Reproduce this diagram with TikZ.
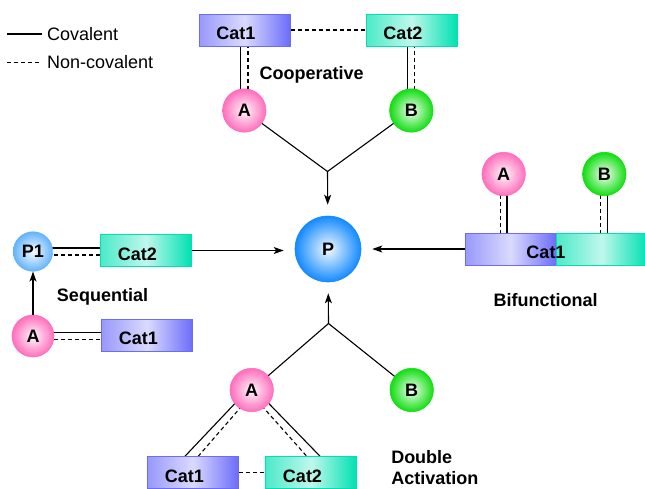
\documentclass[tikz,border=0pt]{standalone}
\usepackage{fontspec}
\setmainfont{Liberation Sans}
\usetikzlibrary{arrows.meta,backgrounds,calc}

\definecolor{catone}{RGB}{108,108,250}
\definecolor{cattwo}{RGB}{0,225,178}
\definecolor{subA}{RGB}{255,110,188}
\definecolor{subB}{RGB}{18,222,18}
\definecolor{prodP}{RGB}{20,138,255}
\definecolor{prodPone}{RGB}{100,180,252}

\tikzset{
  catbox/.style={draw=#1, line width=1pt, left color=#1!70!white, right color=#1, middle color=#1!25!white,
    minimum width=91pt, minimum height=32pt, inner sep=0pt, text height=19pt, text depth=0pt,
    execute at end node={\hspace*{17pt}}},
  ball/.style={circle, draw=#1, line width=0.6pt, inner color=#1!5!white, outer color=#1,
    minimum size=43.4pt, inner sep=0pt},
  nc/.style={dash pattern=on 4pt off 3pt},
  lbl/.style={inner sep=0pt},
  legend/.style={inner sep=0pt, anchor=west, font=\fontsize{18}{21.7}\selectfont\mdseries},
  every on background layer/.style={line width=1.1pt}
}

\begin{document}
\begin{tikzpicture}[x=1pt, y=-1pt, line width=1.1pt,
    font=\fontsize{18}{21.7}\selectfont\bfseries,
    >={Stealth[length=10pt,width=7pt,inset=2.5pt]}]
	\useasboundingbox (0,0) rectangle (645,488);

	% legend
	\node[legend] (covtxt) at (46.5,34) {Covalent};
	\node[legend] (nctxt) at (46.5,62.5) {Non-covalent};
	\coordinate (cov) at (7,34);
	\coordinate (ncov) at (7,62.5);
	\draw (cov) -- ([xshift=-5pt]covtxt.west);
	\draw[nc] (ncov) -- ([xshift=-5pt]nctxt.west);

	% product
	\node[ball=prodP, minimum size=66pt] (p) at (328,249) {P};

	% cooperative
	\node[catbox=catone] (cat1c) at (244.5,30) {Cat1};
	\node[catbox=cattwo] (cat2c) at (411.5,30) {Cat2};
	\node[ball=subA] (ac) at (244.3,110.5) {A};
	\node[ball=subB] (bc) at (411.3,110.5) {B};
	\node[lbl] (coop) at (311.7,75) {Cooperative};
	\coordinate (jc) at (327.5,171.5);
	\draw[nc] (cat1c) -- (cat2c);
	\draw (ac) -- (jc) -- (bc);
	\draw[->, shorten >=11pt] (jc) -- (p);

	% sequential
	\node[ball=prodPone, minimum size=39.5pt] (p1) at (33,251.5) {P1};
	\node[ball=subA, minimum size=42pt] (aseq) at (33,336) {A};
	\node[catbox=cattwo] (cat2s) at (146,250.5) {Cat2};
	\node[catbox=catone] (cat1s) at (147,335) {Cat1};
	\node[lbl] (seq) at (102.5,296.7) {Sequential};
	\draw[->] (aseq) -- (p1);
	\draw[->, shorten >=11pt] (cat2s.east) -- (cat2s.east -| p.west);

	% bifunctional
	\node[catbox=catone] (bf1) at (510.5,249) {};
	\node[catbox=cattwo] (bf2) at (601.5,249) {};
	\node[lbl] (bftxt) at (546,252.7) {Cat1};
	\node[ball=subA] (abf) at (503.7,174) {A};
	\node[ball=subB] (bbf) at (604.3,174) {B};
	\node[lbl] (bifu) at (545.7,300) {Bifunctional};
	\draw[->, shorten >=11pt] (bf1.west) -- (bf1.west -| p.east);

	% double activation
	\node[ball=subA] (adbl) at (251.7,390) {A};
	\node[ball=subB] (bdbl) at (411.7,390) {B};
	\node[catbox=catone] (cat1d) at (192.8,472.7) {Cat1};
	\node[catbox=cattwo] (cat2d) at (311,472.7) {Cat2};
	\node[lbl, anchor=north west, align=left, font=\fontsize{18}{21.2}\selectfont\bfseries] (dact) at (390.7,450) {Double\\Activation};
	\coordinate (jd) at (328.5,323.5);
	\draw (adbl) -- (jd) -- (bdbl);
	\draw[->, shorten >=11pt] (jd) -- (p);
	\draw[nc] (cat1d) -- (cat2d);

	% bonds behind the balls
	\begin{scope}[on background layer]
		\draw ($(ac.center)+(-3.7,0)$) -- ($(ac.center |- cat1c.south)+(-3.7,0)$);
		\draw[nc] ($(ac.center)+(3.7,0)$) -- ($(ac.center |- cat1c.south)+(3.7,0)$);
		\draw ($(bc.center)+(-3.5,0)$) -- ($(bc.center |- cat2c.south)+(-3.5,0)$);
		\draw[nc] ($(bc.center)+(3.5,0)$) -- ($(bc.center |- cat2c.south)+(3.5,0)$);

		\draw ($(p1.center)+(0,-3.5)$) -- ($(p1.center -| cat2s.west)+(0,-3.5)$);
		\draw[nc] ($(p1.center)+(0,3.5)$) -- ($(p1.center -| cat2s.west)+(0,3.5)$);
		\draw ($(aseq.center)+(0,-3.8)$) -- ($(aseq.center -| cat1s.west)+(0,-3.8)$);
		\draw[nc] ($(aseq.center)+(0,3.8)$) -- ($(aseq.center -| cat1s.west)+(0,3.8)$);

		\draw[nc] ($(abf.center)+(-3.3,0)$) -- ($(abf.center |- bf1.north)+(-3.3,0)$);
		\draw ($(abf.center)+(3.3,0)$) -- ($(abf.center |- bf1.north)+(3.3,0)$);
		\draw[nc] ($(bbf.center)+(-3.5,0)$) -- ($(bbf.center |- bf2.north)+(-3.5,0)$);
		\draw ($(bbf.center)+(3.5,0)$) -- ($(bbf.center |- bf2.north)+(3.5,0)$);

		\draw ($(adbl.center)+(-4,0)$) -- ([xshift=-7.8pt]cat1d.north);
		\draw[nc] ($(adbl.center)+(4,0)$) -- ([xshift=5.5pt]cat1d.north);
		\draw[nc] ($(adbl.center)+(-4,0)$) -- ([xshift=-4.3pt]cat2d.north);
		\draw ($(adbl.center)+(4,0)$) -- ([xshift=9pt]cat2d.north);
	\end{scope}
\end{tikzpicture}
\end{document}
